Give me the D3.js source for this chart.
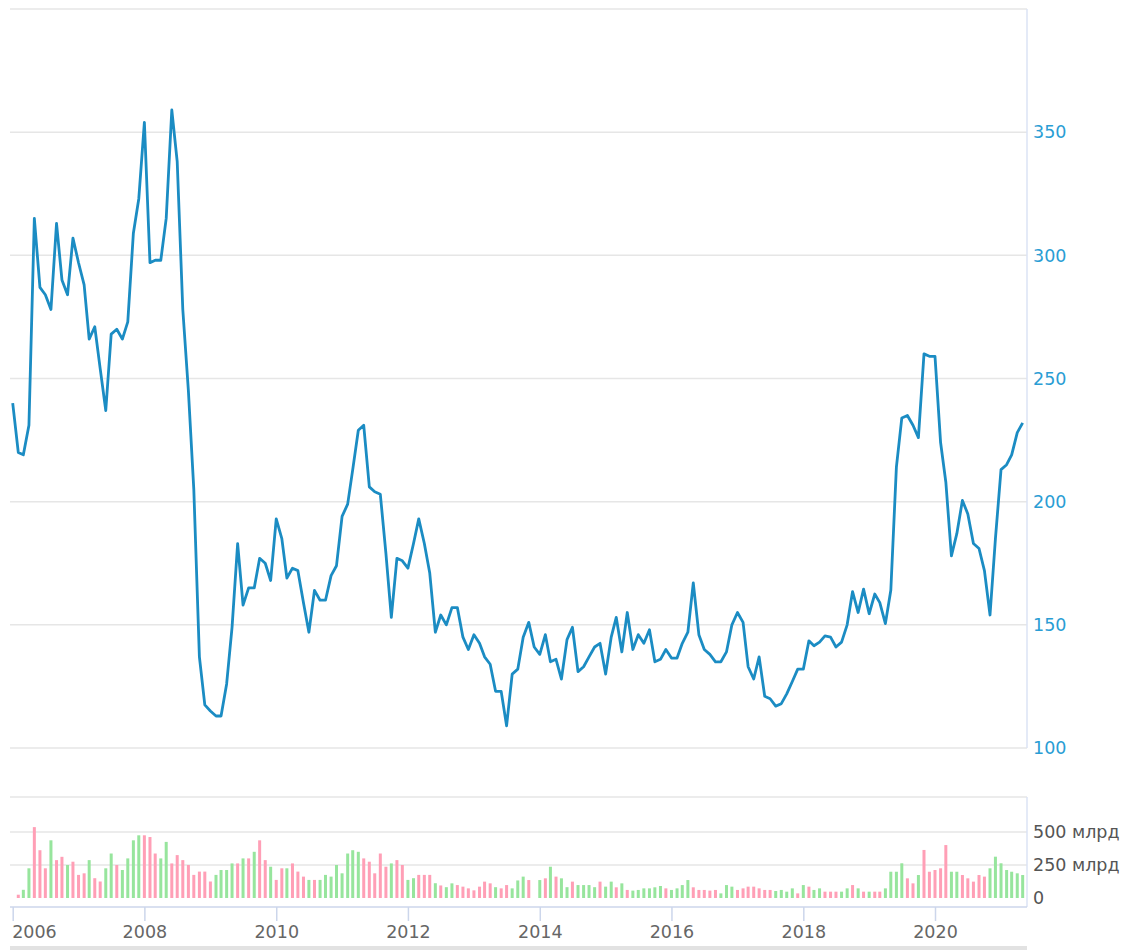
<!DOCTYPE html>
<html>
<head>
<meta charset="utf-8">
<script src="https://cdn.jsdelivr.net/npm/d3@7"></script>
<style>
  body { margin: 0; background: #fff; }
  svg text { font-family: "DejaVu Sans", Verdana, sans-serif; }
</style>
</head>
<body>
<svg id="chart" width="1130" height="950"></svg>
<script>
// monthly closes, Jan 2006 .. May 2021
const priceStart = "2006-01-01";
const priceValues = [
  240, 220, 219, 231, 315, 287, 284, 278, 313, 290, 284, 307,
  297, 288, 266, 271, 254, 237, 268, 270, 266, 273, 309, 323,
  354, 297, 298, 298, 315, 359, 338, 278, 245, 205, 137, 117.5,
  115, 113, 113, 126, 149, 183, 158, 165, 165, 177, 175, 168,
  193, 185, 169, 173, 172, 159, 147, 164, 160, 160, 170, 174,
  194, 199, 213, 229, 231, 206, 204, 203, 179, 153, 177, 176,
  173, 183, 193, 183, 171, 147, 154, 150, 157, 157, 145, 140,
  146, 142.5, 137, 134, 123, 123, 109, 130, 132, 145, 151, 141,
  138, 146, 135, 136, 128, 144, 149, 131, 133, 137, 141, 142.5,
  130, 145, 153, 139, 155, 140, 146, 142.5, 148, 135, 136, 140,
  136.5, 136.5, 142.5, 147, 167, 146, 140, 138, 135, 135, 139, 150,
  155, 151, 133, 128, 137, 121, 120, 117, 118, 122, 127, 132,
  132, 143.5, 141.5, 143, 145.5, 145, 141, 143, 150, 163.5, 155, 164.5,
  154.5, 162.5, 159, 150.5, 164, 214, 234, 235, 231, 226, 260, 259,
  259, 224, 208, 178, 187, 200.5, 195, 183, 181, 172, 154, 185,
  213, 215, 219, 228, 232
];

// monthly volume in billions, Feb 2006 .. May 2021
const volumeStart = "2006-02-01";
const volumeValues = [
  25, 62, 225, 537, 362, 225, 437, 287, 312, 250,
  275, 175, 187, 287, 150, 125, 225, 337, 250, 212,
  300, 437, 475, 475, 462, 337, 300, 425, 262, 325,
  287, 250, 175, 200, 200, 125, 175, 212, 212, 262,
  262, 300, 300, 350, 437, 287, 237, 137, 225, 225,
  262, 200, 162, 137, 137, 137, 175, 162, 250, 187,
  337, 362, 350, 300, 275, 187, 337, 237, 262, 287,
  250, 137, 150, 175, 175, 175, 112, 95, 82, 111,
  98, 86, 73, 58, 86, 124, 111, 82, 73, 98,
  73, 133, 162, 136, 0, 136, 149, 237, 162, 149,
  82, 124, 98, 98, 98, 82, 124, 86, 124, 81,
  111, 61, 56, 61, 73, 73, 81, 91, 73, 61,
  73, 98, 136, 81, 61, 61, 56, 61, 35, 98,
  86, 61, 73, 86, 86, 73, 61, 61, 53, 61,
  48, 73, 35, 98, 86, 61, 73, 48, 48, 48,
  48, 73, 98, 73, 48, 48, 48, 48, 73, 199,
  199, 263, 149, 111, 174, 364, 199, 212, 225, 401,
  199, 199, 174, 149, 124, 174, 162, 225, 313, 263,
  212, 199, 187, 174
];
// p = pink bar, g = green bar
const volumeColorKeys = (
  "pggpppgppg" + "pppgppggpg" + "gggpppggpp" + "ppppppgggg" +
  "pgpgppgppg" + "pppgpggggg" + "gggpppppgp" + "pggpppgpgg" +
  "pppppppgpp" + "gggpggpgpg" + "gpggggpggp" + "gpggggggpg" +
  "gggpppppgg" + "gpppppppgg" + "ggpgpggppp" + "ggpgpgppgg" +
  "ggppgppppp" + "ggpppppggg" + "gggg"
).split("");

const priceTicks = [100, 150, 200, 250, 300, 350];
const priceGrid = [100, 150, 200, 250, 300, 350, 400];
const volumeTicks = [0, 250, 500];
const volumeGrid = [250, 500, 750];
const yearTicks = [2006, 2008, 2010, 2012, 2014, 2016, 2018, 2020];

const barColors = { p: "#ff9fb6", g: "#97e59d" };

const parse = d3.utcParse("%Y-%m-%d");
const priceData = priceValues.map((v, i) => ({ date: d3.utcMonth.offset(parse(priceStart), i), value: v }));
const volumeData = volumeValues.map((v, i) => ({
  date: d3.utcMonth.offset(parse(volumeStart), i), value: v, key: volumeColorKeys[i]
}));

const svg = d3.select("#chart");
const left = 10, right = 1027;

const x = d3.scaleUtc()
  .domain([parse("2006-01-01"), parse("2020-01-01")])
  .range([12.7, 935]);

const yPrice = d3.scaleLinear().domain([100, 400]).range([748, 9]);
const yVol = d3.scaleLinear().domain([0, 750]).range([898, 799]);

// price panel grid
svg.append("g").selectAll("line")
  .data(priceGrid)
  .enter().append("line")
  .attr("x1", left).attr("x2", right)
  .attr("y1", d => yPrice(d)).attr("y2", d => yPrice(d))
  .attr("stroke", "#e6e6e6").attr("stroke-width", 1.5);

svg.append("line")
  .attr("x1", right).attr("x2", right)
  .attr("y1", yPrice(400)).attr("y2", yPrice(100))
  .attr("stroke", "#dbe3f4").attr("stroke-width", 1.5);

svg.append("g").selectAll("text")
  .data(priceTicks)
  .enter().append("text")
  .attr("x", 1033)
  .attr("y", d => yPrice(d))
  .attr("dy", "0.36em")
  .attr("font-size", 17.5)
  .attr("fill", "#2a9dd4")
  .text(d => d);

// price line
const line = d3.line()
  .x(d => x(d.date))
  .y(d => yPrice(d.value));

svg.append("path")
  .datum(priceData)
  .attr("d", line)
  .attr("fill", "none")
  .attr("stroke", "#1b8cc3")
  .attr("stroke-width", 2.8)
  .attr("stroke-linejoin", "round");

// volume panel
svg.append("g").selectAll("line")
  .data(volumeGrid)
  .enter().append("line")
  .attr("x1", left).attr("x2", right)
  .attr("y1", d => d === 750 ? 797 : yVol(d)).attr("y2", d => d === 750 ? 797 : yVol(d))
  .attr("stroke", "#e6e6e6").attr("stroke-width", 1.5);

svg.append("line")
  .attr("x1", right).attr("x2", right)
  .attr("y1", 797).attr("y2", 907)
  .attr("stroke", "#dbe3f4").attr("stroke-width", 1.5);

svg.append("g").selectAll("rect")
  .data(volumeData)
  .enter().append("rect")
  .attr("x", d => x(d.date) - 1.5)
  .attr("width", 3)
  .attr("y", d => yVol(d.value))
  .attr("height", d => yVol(0) - yVol(d.value))
  .attr("fill", d => barColors[d.key]);

svg.append("g").selectAll("text")
  .data(volumeTicks)
  .enter().append("text")
  .attr("x", 1033)
  .attr("y", d => yVol(d))
  .attr("dy", "0.36em")
  .attr("font-size", 17.5)
  .attr("fill", "#555")
  .text(d => d === 0 ? "0" : d + " млрд");

// x axis
svg.append("line")
  .attr("x1", left).attr("x2", right)
  .attr("y1", 907).attr("y2", 907)
  .attr("stroke", "#ccd6eb").attr("stroke-width", 1.5);

const xAxis = d3.axisBottom(x)
  .tickValues(yearTicks.map(yr => parse(yr + "-01-01")))
  .tickFormat(d3.utcFormat("%Y"))
  .tickSize(14)
  .tickPadding(5);

const gx = svg.append("g")
  .attr("transform", "translate(0,907)")
  .call(xAxis);
gx.select(".domain").remove();
gx.selectAll(".tick line").attr("stroke", "#ccd6eb").attr("stroke-width", 1.5);
gx.selectAll(".tick text")
  .attr("font-size", 17.5)
  .attr("font-family", "DejaVu Sans, sans-serif")
  .attr("fill", "#666");
gx.selectAll(".tick text").filter((d, i) => i === 0)
  .attr("text-anchor", "start")
  .attr("x", -1);

// navigator strip at the bottom edge
svg.append("rect")
  .attr("x", left).attr("y", 946)
  .attr("width", right - left).attr("height", 4)
  .attr("fill", "#e2e2e2");
</script>
</body>
</html>
